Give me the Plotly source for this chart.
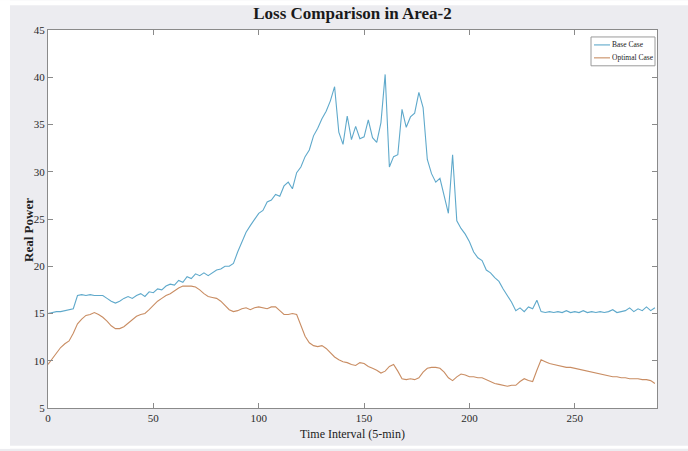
import plotly.graph_objects as go

# ---- data (every 2nd 5-min interval) ----
time_idx = list(range(0, 289, 2))

base_case = [
    15.0, 15.1, 15.2, 15.2, 15.3, 15.4, 15.5, 16.9, 17.0, 16.9,
    17.0, 16.9, 16.9, 16.9, 16.6, 16.3, 16.1, 16.3, 16.6, 16.8,
    16.6, 16.9, 17.1, 16.8, 17.3, 17.2, 17.6, 17.5, 17.9, 18.1,
    18.0, 18.5, 18.3, 18.9, 18.7, 19.2, 19.0, 19.3, 19.0, 19.3,
    19.6, 19.7, 20.0, 20.0, 20.3, 21.5, 22.6, 23.6, 24.3, 25.0,
    25.6, 25.9, 26.8, 27.0, 27.6, 27.4, 28.5, 28.9, 28.2, 29.9,
    30.5, 31.6, 32.3, 33.8, 34.6, 35.6, 36.4, 37.5, 39.0, 34.2,
    32.9, 35.9, 33.4, 34.8, 33.5, 33.7, 35.5, 33.6, 33.1, 35.2,
    40.3, 30.5, 31.6, 31.8, 36.6, 34.7, 35.8, 36.2, 38.4, 36.8,
    31.3, 29.8, 28.9, 29.3, 27.4, 25.6, 31.8, 24.8, 24.0, 23.4,
    22.6, 21.5, 20.9, 20.6, 19.6, 19.3, 18.8, 18.4, 17.6, 16.9,
    16.2, 15.3, 15.6, 15.2, 15.7, 15.5, 16.4, 15.2, 15.1, 15.2,
    15.1, 15.2, 15.1, 15.3, 15.1, 15.2, 15.1, 15.3, 15.1, 15.2,
    15.1, 15.2, 15.1, 15.2, 15.4, 15.1, 15.2, 15.3, 15.6, 15.2,
    15.5, 15.3, 15.7, 15.3, 15.6,
]

optimal_case = [
    9.6, 10.2, 10.9, 11.4, 11.8, 12.1, 12.9, 13.9, 14.4, 14.8,
    14.9, 15.1, 14.9, 14.6, 14.2, 13.7, 13.4, 13.4, 13.6, 14.0,
    14.4, 14.7, 14.9, 15.0, 15.4, 15.9, 16.3, 16.6, 16.9, 17.1,
    17.4, 17.7, 17.9, 17.9, 17.9, 17.8, 17.5, 17.1, 16.8, 16.7,
    16.6, 16.3, 15.9, 15.4, 15.2, 15.3, 15.5, 15.6, 15.4, 15.6,
    15.7, 15.6, 15.5, 15.7, 15.7, 15.3, 14.9, 14.9, 15.0, 14.9,
    13.8, 12.6, 11.9, 11.6, 11.5, 11.6, 11.3, 10.8, 10.4, 10.1,
    9.9, 9.8, 9.6, 9.5, 9.8, 9.7, 9.4, 9.2, 9.0, 8.7,
    8.9, 9.4, 9.6, 8.9, 8.1, 8.0, 8.1, 8.0, 8.2, 8.8,
    9.2, 9.3, 9.3, 9.2, 8.8, 8.2, 7.9, 8.3, 8.6, 8.5,
    8.3, 8.3, 8.2, 8.2, 8.0, 7.8, 7.6, 7.5, 7.4, 7.3,
    7.4, 7.4, 7.8, 8.1, 7.9, 7.8, 9.0, 10.1, 9.9, 9.7,
    9.6, 9.5, 9.4, 9.3, 9.3, 9.2, 9.1, 9.0, 8.9, 8.8,
    8.7, 8.6, 8.5, 8.4, 8.3, 8.3, 8.2, 8.2, 8.1, 8.1,
    8.1, 8.0, 8.0, 7.9, 7.6,
]

series_names = ["Base Case", "Optimal Case"]
series_colors = ["#5fa9cb", "#c98d63"]

x_ticks = [0, 50, 100, 150, 200, 250]
y_ticks = [5, 10, 15, 20, 25, 30, 35, 40, 45]

W, H = 688, 451
L, R, T, B = 48, 31, 30, 41
pw, ph = W - L - R, H - T - B

def px(xp):
    return (xp - L) / pw

def py(yp):
    return (H - B - yp) / ph

SERIF = "Liberation Serif, Times New Roman, serif"
GREY_BG = "#ececf0"
AX = "#8a8a8a"

fig = go.Figure()
for name, vals, col in zip(series_names, [base_case, optimal_case], series_colors):
    fig.add_trace(go.Scatter(x=time_idx, y=vals, mode="lines", name=name,
                             line=dict(color=col, width=1.1), showlegend=False))

axis_common = dict(
    showgrid=False, zeroline=False, showline=True, linecolor=AX, linewidth=1,
    mirror="ticks", ticks="inside", ticklen=5, tickcolor=AX,
    tickfont=dict(family=SERIF, size=11, color="#2a2a2a"),
)

fig.update_layout(
    width=W, height=H,
    margin=dict(l=L, r=R, t=T, b=B, pad=0),
    paper_bgcolor=GREY_BG, plot_bgcolor="white",
    title=dict(text="<b>Loss Comparison in Area-2</b>", x=0.5, xref="paper",
               y=1 - 13 / H, yref="container", yanchor="middle",
               font=dict(family=SERIF, size=17, color="#1a1a1a")),
    xaxis=dict(range=[0, 289], tickvals=x_ticks,
               title=dict(text="Time Interval (5-min)", standoff=6,
                          font=dict(family=SERIF, size=12, color="#222222")),
               **axis_common),
    yaxis=dict(range=[5, 45], tickvals=y_ticks, **axis_common),
    showlegend=False,
)

# y-axis title placed close to the tick labels, as in the reference
fig.add_annotation(text="<b>Real Power</b>", xref="paper", yref="paper",
                   x=px(29), y=py(231), textangle=-90, showarrow=False,
                   xanchor="center", yanchor="middle",
                   font=dict(family=SERIF, size=13, color="#222222"))

# compact MATLAB-style legend box
fig.add_shape(type="rect", xref="paper", yref="paper",
              x0=px(591), x1=px(655), y0=py(66), y1=py(37),
              fillcolor="white", line=dict(color="#9a9a9a", width=1))
for k, (name, col) in enumerate(zip(series_names, series_colors)):
    yy = 45 + k * 13
    fig.add_shape(type="line", xref="paper", yref="paper",
                  x0=px(594), x1=px(610), y0=py(yy), y1=py(yy),
                  line=dict(color=col, width=1.1))
    fig.add_annotation(text=name, xref="paper", yref="paper",
                       x=px(610), y=py(yy), xanchor="left", yanchor="middle",
                       showarrow=False,
                       font=dict(family=SERIF, size=7.5, color="#222222"))

# white outer strips (left, top, bottom) of the figure background
for x0, x1, y0, y1 in [(0, 10, 0, H), (0, W, 0, 5), (0, W, 448, H)]:
    fig.add_shape(type="rect", xref="paper", yref="paper",
                  x0=px(x0), x1=px(x1), y0=py(y1), y1=py(y0),
                  fillcolor="white", line=dict(width=0), layer="below")

fig.write_html("out.html")
